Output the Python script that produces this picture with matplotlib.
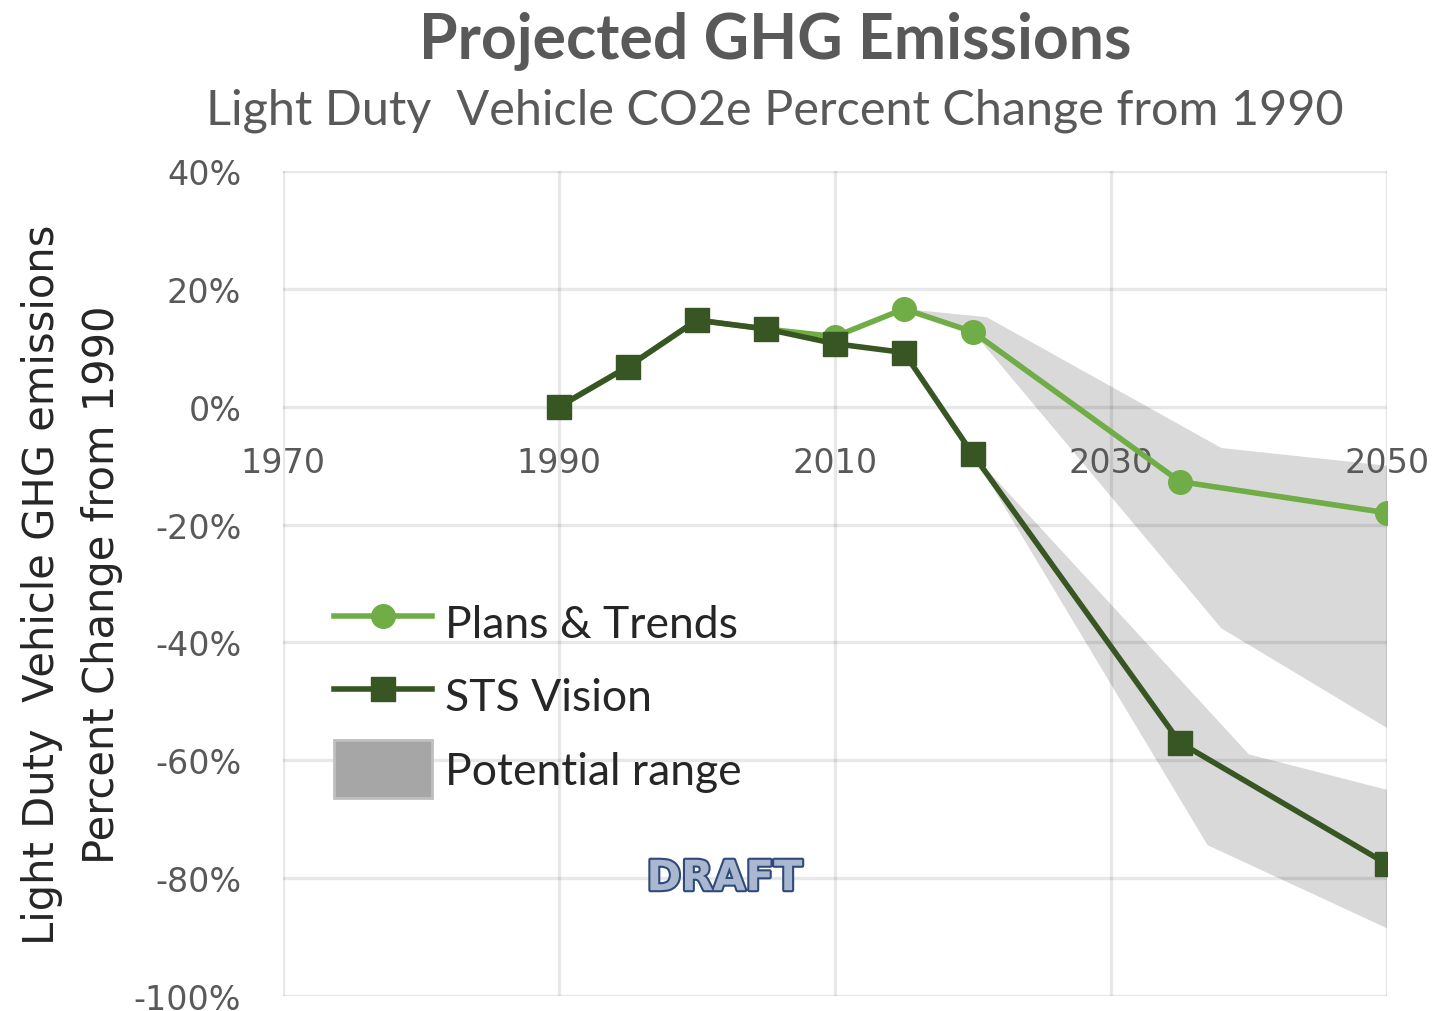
import matplotlib
matplotlib.use("Agg")
import matplotlib.pyplot as plt
import matplotlib.patheffects as pe
from matplotlib.lines import Line2D
from matplotlib.patches import Patch
from matplotlib.ticker import FuncFormatter, MultipleLocator
import numpy as np

# data (percent change from 1990)
years = [1990, 1995, 2000, 2005, 2010, 2015, 2020, 2035, 2050]
plans_trends = [0, 6.8, 14.7, 13.2, 11.9, 16.6, 12.7, -12.7, -18.0]
sts_vision = [0, 6.8, 14.7, 13.2, 10.7, 9.2, -8.1, -57.0, -77.6]

# potential range, plans & trends band
pt_hi_x = [2015, 2021, 2038, 2050]
pt_hi_y = [16.6, 15.2, -7.0, -10.0]
pt_lo_x = [2015, 2020, 2038, 2050]
pt_lo_y = [16.6, 12.7, -37.6, -54.5]

# potential range, STS vision band
sts_hi_x = [2020, 2040, 2050]
sts_hi_y = [-8.1, -59.0, -65.0]
sts_lo_x = [2020, 2037, 2050]
sts_lo_y = [-8.1, -74.4, -88.5]

x_ticks = [1970, 1990, 2010, 2030, 2050]

txt = "#595959"
light_green = "#70AD47"
dark_green = "#375623"
band = "#D9D9D9"

fig = plt.figure(figsize=(14.38, 10.12), dpi=100)
ax = fig.add_axes([0.1968, 0.0148, 0.7677, 0.8152])

ax.fill(np.concatenate([pt_hi_x, pt_lo_x[::-1]]),
        np.concatenate([pt_hi_y, pt_lo_y[::-1]]),
        color=band, lw=0, zorder=1)
ax.fill(np.concatenate([sts_hi_x, sts_lo_x[::-1]]),
        np.concatenate([sts_hi_y, sts_lo_y[::-1]]),
        color=band, lw=0, zorder=1)

ax.plot(years, plans_trends, color=light_green, lw=4, marker="o",
        markersize=17, zorder=3)
ax.plot(years, sts_vision, color=dark_green, lw=4, marker="s",
        markersize=17, zorder=4)

ax.set_xlim(1970, 2050)
ax.set_ylim(-100, 40)
ax.set_xticks(x_ticks)
ax.yaxis.set_major_locator(MultipleLocator(20))
ax.yaxis.set_major_formatter(FuncFormatter(lambda v, p: f"{v:.0f}%"))
ax.grid(True, color="black", alpha=0.09, lw=2.4)
ax.set_axisbelow(False)
for s in ["top", "right", "left"]:
    ax.spines[s].set_visible(False)
ax.spines["bottom"].set_position(("data", 0))
ax.spines["bottom"].set_linewidth(0)
ax.tick_params(axis="x", length=0, pad=28, labelsize=24, labelcolor=txt)
ax.tick_params(axis="y", length=0, pad=30, labelsize=24, labelcolor=txt)

ax.set_ylabel("Light Duty  Vehicle GHG emissions\nPercent Change from 1990",
              fontsize=30, family=["Liberation Sans Narrow", "DejaVu Sans"],
              color="#262626", linespacing=1.55, labelpad=8)

fig.text(0.539, 0.960, "Projected GHG Emissions", ha="center", va="center",
         fontsize=45, fontweight="bold", color=txt, family="Lato")
fig.text(0.539, 0.891, "Light Duty  Vehicle CO2e Percent Change from 1990",
         ha="center", va="center", fontsize=35, color=txt, family="Lato")

handles = [
    Line2D([], [], color=light_green, lw=4, marker="o", markersize=17),
    Line2D([], [], color=dark_green, lw=4, marker="s", markersize=17),
    Patch(facecolor="#A6A6A6", edgecolor="#BFBFBF", lw=2),
]
ax.legend(handles, ["Plans & Trends", "STS Vision", "Potential range"],
          loc="upper left", bbox_to_anchor=(0.046, 0.487), frameon=False,
          prop={"family": "Lato", "size": 32}, labelcolor="#262626",
          handlelength=2.2, handleheight=1.6, labelspacing=0.36,
          handletextpad=0.3, borderpad=0, borderaxespad=0)

ax.text(2002, -80, "DRAFT", ha="center", va="center", fontsize=30,
        fontweight="bold", color="#A9B8D0", family="DejaVu Sans",
        path_effects=[pe.withStroke(linewidth=3, foreground="#2E4A7A")],
        zorder=5)

fig.savefig("out.png", dpi=100)
